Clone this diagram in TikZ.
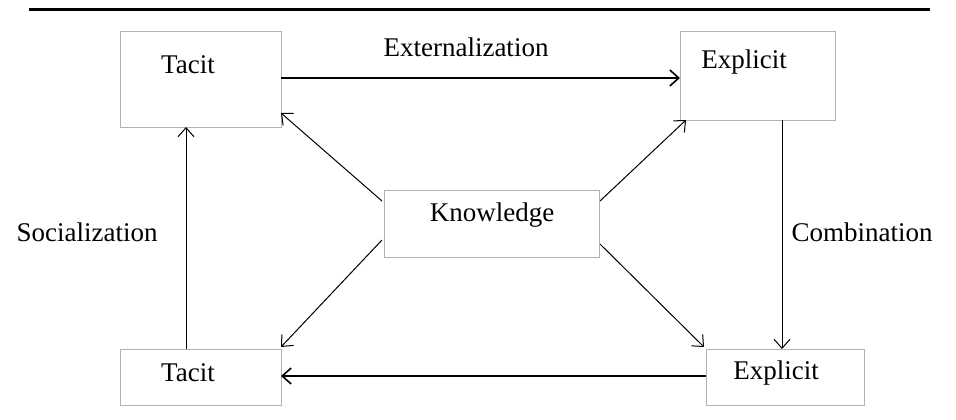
\documentclass[tikz,border=0pt]{standalone}
\usepackage{fontspec}
\setmainfont{Liberation Serif}
\usetikzlibrary{arrows.meta}
\begin{document}
\begin{tikzpicture}[x=1pt,y=-1pt,
  box/.style={draw=gray!60,line width=0.8pt},
  lbl/.style={font=\fontsize{27}{30}\selectfont},
  arr/.style={draw,line width=1pt,-{Straight Barb[length=9pt,width=16pt]}}]
\useasboundingbox (0,0) rectangle (956,420);
\fill[white] (0,0) rectangle (956,420);
\draw[line width=3pt] (29,10) -- (930,10);
\node[box,minimum width=161pt,minimum height=96pt,inner sep=0pt] (t1) at (200.5,79) {};
\node[box,minimum width=155pt,minimum height=89pt,inner sep=0pt] (e1) at (757.5,75.5) {};
\node[box,minimum width=215pt,minimum height=67pt,inner sep=0pt] (k) at (491.5,223.5) {};
\node[box,minimum width=161pt,minimum height=56pt,inner sep=0pt] (t2) at (200.5,377) {};
\node[box,minimum width=158pt,minimum height=56pt,inner sep=0pt] (e2) at (785,377) {};
\node[lbl] (tt1) at (188,65) {Tacit};
\node[lbl] (te1) at (744,62) {Explicit};
\node[lbl] (tk) at (492,215) {Knowledge};
\node[lbl] (tt2) at (188,373) {Tacit};
\node[lbl] (te2) at (776,373) {Explicit};
\node[lbl] (lx) at (466,47) {Externalization};
\node[lbl] (ls) at (87,232) {Socialization};
\node[lbl] (lc) at (862,232) {Combination};
\coordinate (a1) at (281,78); \coordinate (a2) at (680,78);
\draw[arr,line width=1.6pt] (a1) -- (a2);
\coordinate (b1) at (706,376); \coordinate (b2) at (281,376);
\draw[arr,line width=1.6pt] (b1) -- (b2);
\coordinate (c1) at (186,349); \coordinate (c2) at (186,127);
\draw[arr] (c1) -- (c2);
\coordinate (d1) at (782,120); \coordinate (d2) at (782,349);
\draw[arr] (d1) -- (d2);
\coordinate (k1) at (382,201); \coordinate (k2) at (281,113);
\draw[arr] (k1) -- (k2);
\coordinate (k3) at (600,201); \coordinate (k4) at (686,120);
\draw[arr] (k3) -- (k4);
\coordinate (k5) at (382,240); \coordinate (k6) at (281,347);
\draw[arr] (k5) -- (k6);
\coordinate (k7) at (600,244); \coordinate (k8) at (704,347);
\draw[arr] (k7) -- (k8);
\end{tikzpicture}
\end{document}
